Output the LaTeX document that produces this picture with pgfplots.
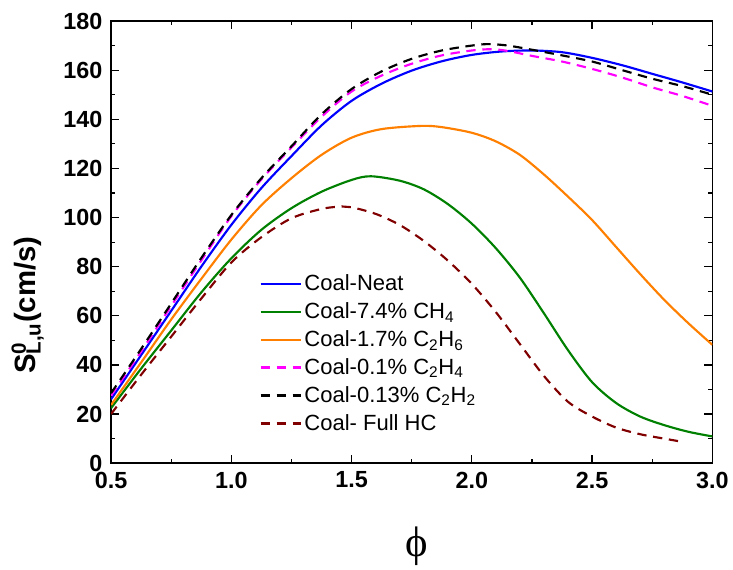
\documentclass[border=0pt]{standalone}
\usepackage{fontspec}
\setmainfont{Liberation Sans}
\newfontfamily\serif{Liberation Serif}
\usepackage{pgfplots}
\pgfplotsset{compat=1.18}
\usetikzlibrary{calc}

\definecolor{cblue}{RGB}{0,0,255}
\definecolor{cgreen}{RGB}{0,128,0}
\definecolor{corange}{RGB}{255,128,0}
\definecolor{cmag}{RGB}{255,0,255}
\definecolor{cred}{RGB}{128,0,0}

\begin{document}
\begin{tikzpicture}
\begin{axis}[
  scale only axis,
  width=450.75pt, height=331.5pt,
  xmin=0.5, xmax=3.0, ymin=0, ymax=180,
  xtick={0.5,1.0,...,3.0}, ytick={0,20,...,180},
  minor x tick num=1, minor y tick num=1,
  xticklabel style={yshift=-3pt, /pgf/number format/.cd,fixed,fixed zerofill,precision=1},
  /pgf/number format/assume math mode=true,
  tick label style={font=\fontsize{17.5}{17.5}\selectfont\bfseries},
  yticklabel style={xshift=-3pt},
  tick align=inside,
  major tick length=6pt, minor tick length=3pt,
  axis line style={line width=1.1pt},
  every tick/.style={black, line width=0.9pt},
  xlabel={{\serif\fontsize{32}{32}\selectfont ϕ}},
  xlabel style={at={(axis description cs:0.5,0)}, anchor=center, yshift=-62pt, xshift=4pt},
  legend style={draw=none, fill=none, at={(0.24,0.439)}, anchor=north west,
    font=\fontsize{16.5}{19}\selectfont, row sep=3.5pt,
    /tikz/every even column/.append style={column sep=0pt}},
  legend cell align=left,
  legend image code/.code={\draw[#1] (0pt,0pt) -- (30pt,0pt);},
  every axis plot/.append style={line width=1.6pt, smooth},
]
\addplot[cblue] coordinates {
 (0.5,26) (0.625,44) (0.75,62) (0.875,80) (1.0,97) (1.125,112) (1.25,125)
 (1.375,137.5) (1.5,147.5) (1.625,154.5) (1.75,159.8) (1.875,163.6) (2.0,166.2)
 (2.125,167.6) (2.25,168) (2.375,167.3) (2.5,165) (2.625,162) (2.75,158.5)
 (2.875,155) (3.0,151.3)};
\addlegendentry{Coal-Neat}
\addplot[cgreen] coordinates {
 (0.5,22.4) (0.625,38.5) (0.75,54) (0.875,69.5) (1.0,83.4) (1.125,95) (1.25,103.8)
 (1.375,110.5) (1.5,115.3) (1.58,116.8) (1.7,115) (1.8,111.5) (1.9,105.5) (2.0,97.5)
 (2.1,87.5) (2.2,75.5) (2.3,61) (2.4,46) (2.5,33) (2.6,24.5) (2.7,19) (2.8,15.5)
 (2.9,12.8) (3.0,10.9)};
\addlegendentry{Coal-7.4\% CH\textsubscript{4}}
\addplot[corange] coordinates {
 (0.5,23.7) (0.625,41) (0.75,58.5) (0.875,75) (1.0,91) (1.125,105) (1.25,116)
 (1.375,125.5) (1.5,132.5) (1.625,136) (1.79,137.3) (1.875,136.8) (2.0,134.5)
 (2.1,131) (2.2,125.5) (2.3,117.5) (2.4,108.5) (2.5,99) (2.6,88) (2.7,77)
 (2.8,66.5) (2.9,57) (3.0,48.2)};
\addlegendentry{Coal-1.7\% C\textsubscript{2}H\textsubscript{6}}
\addplot[cmag, dash pattern=on 7pt off 5pt] coordinates {
 (0.5,27.5) (0.625,45.5) (0.75,64) (0.875,82.5) (1.0,100.5) (1.125,115.5) (1.25,128.5)
 (1.375,141) (1.5,151.3) (1.625,157.8) (1.75,162.6) (1.875,166) (2.0,168)
 (2.08,168.5) (2.15,167.8) (2.25,165.8) (2.375,163.5) (2.5,160.5) (2.625,157)
 (2.75,153) (2.875,149.5) (3.0,145.5)};
\addlegendentry{Coal-0.1\% C\textsubscript{2}H\textsubscript{4}}
\addplot[black, dash pattern=on 7pt off 5pt] coordinates {
 (0.5,28.5) (0.625,46.5) (0.75,65) (0.875,83.5) (1.0,101) (1.125,116) (1.25,129)
 (1.375,142) (1.5,152.3) (1.625,159.5) (1.75,164.6) (1.875,168) (2.0,170)
 (2.07,170.6) (2.15,170) (2.25,168.3) (2.375,166) (2.5,163.5) (2.625,160)
 (2.75,156.5) (2.875,153.5) (3.0,150)};
\addlegendentry{Coal-0.13\% C\textsubscript{2}H\textsubscript{2}}
\addplot[cred, dash pattern=on 7pt off 5pt] coordinates {
 (0.5,20) (0.625,36) (0.75,51.5) (0.875,67) (1.0,81.7) (1.125,92) (1.25,99.7)
 (1.375,103.5) (1.46,104.5) (1.5,104.2) (1.6,101.5) (1.7,97) (1.8,90.5) (1.9,82.5)
 (2.0,73) (2.1,61.5) (2.2,48.5) (2.3,35.5) (2.4,25) (2.5,19) (2.6,14.5) (2.7,11.8)
 (2.8,10) (2.87,8.8)};
\addlegendentry{Coal- Full HC}
\end{axis}
\node[rotate=90, anchor=center, font=\fontsize{22}{22}\selectfont\bfseries]
  at ($(current axis.south west)+(-62.5pt,118.5pt)$)
  {S\rlap{\textsuperscript{0}}\textsubscript{L,u}(cm/s)};
\path ($(current axis.south west)+(-83.25pt,-78pt)$) rectangle ($(current axis.north east)+(15pt,15.75pt)$);
\end{tikzpicture}
\end{document}
